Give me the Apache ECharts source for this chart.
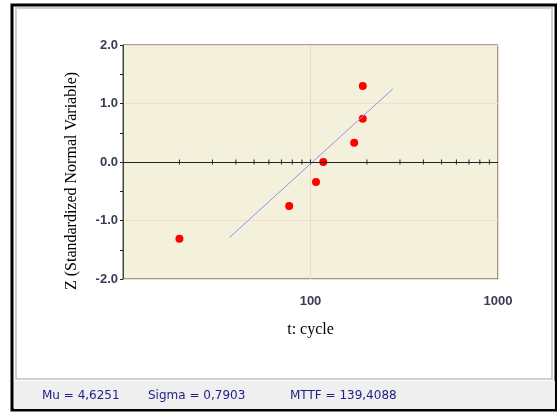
<!DOCTYPE html>
<html>
<head>
<meta charset="utf-8">
<script src="https://cdn.jsdelivr.net/npm/echarts@6/dist/echarts.min.js"></script>
<style>
  html, body { margin: 0; padding: 0; background: #fff; }
  #chart { width: 557px; height: 412px; }
</style>
</head>
<body>
<div id="chart"></div>
<script>
// failure times (cycles) and their standard normal scores
var tValues = [20, 77, 107, 117, 171, 190, 190];
var zValues = [-1.31, -0.75, -0.34, 0.0, 0.33, 0.74, 1.30];

// fitted line end points
var fitT = [37, 275];
var fitZ = [-1.29, 1.25];

// small marks on the zero line
var zeroLineTicks = [20, 30, 40, 50, 60, 70, 80, 90, 100, 200, 300, 400, 500, 600, 700, 800, 900];
var xLabels = [100, 1000];

var statusItems = ['Mu = 4,6251', 'Sigma = 0,7903', 'MTTF = 139,4088'];
var statusX = [42, 148, 290];

var chart = echarts.init(document.getElementById('chart'));

var points = tValues.map(function (t, i) { return [t, zValues[i]]; });
var fitLine = fitT.map(function (t, i) { return [t, fitZ[i]]; });
var tickMarks = zeroLineTicks.map(function (t) { return [t, 0]; });

var frame = [
  { type: 'rect', z: -10, shape: { x: 12, y: 5, width: 544, height: 405 },
    style: { fill: '#fff', stroke: '#000', lineWidth: 3 } },
  { type: 'rect', z: -9, shape: { x: 16, y: 8, width: 536, height: 371 },
    style: { fill: '#fff', stroke: '#cfcfcf', lineWidth: 2 } },
  { type: 'rect', z: -9, shape: { x: 14, y: 381, width: 541, height: 28 },
    style: { fill: '#efefef' } },
  { type: 'text', x: 72, y: 181, rotation: Math.PI / 2,
    style: { text: 'Z (Standardized Normal Variable)', font: '16px "Liberation Serif"',
      fill: '#000', align: 'center', verticalAlign: 'middle' } }
];
statusItems.forEach(function (s, i) {
  frame.push({ type: 'text', x: statusX[i], y: 396,
    style: { text: s, font: '12px "DejaVu Sans"', fill: '#1e1e86', verticalAlign: 'middle' } });
});

chart.setOption({
  animation: false,
  graphic: frame,
  grid: {
    left: 123, top: 45, right: 59, bottom: 133,
    show: true, backgroundColor: '#f3f1dc', borderColor: '#444', borderWidth: 1
  },
  xAxis: {
    type: 'log', min: 10, max: 1000, logBase: 10,
    name: 't: cycle', nameLocation: 'middle', nameGap: 43,
    nameTextStyle: { fontFamily: 'Liberation Serif', fontSize: 16, color: '#000' },
    axisLine: { show: false, onZero: false },
    axisTick: { show: false },
    axisLabel: { customValues: xLabels, margin: 16, color: '#3a3a55',
      fontFamily: 'Liberation Sans', fontSize: 13, fontWeight: 'bold',
      formatter: function (v) { return String(v); } },
    splitLine: { show: true, lineStyle: { color: '#f6d9b8', width: 1 } }
  },
  yAxis: {
    type: 'value', min: -2, max: 2, interval: 1,
    axisLine: { show: true, onZero: false, lineStyle: { color: '#444' } },
    axisTick: { show: true, length: 3, lineStyle: { color: '#222' } },
    minorTick: { show: true, splitNumber: 2, length: 3, lineStyle: { color: '#222' } },
    axisLabel: { margin: 5, color: '#3a3a55', fontFamily: 'Liberation Sans', fontSize: 13,
      fontWeight: 'bold',
      formatter: function (v) { return v.toFixed(1); } },
    splitLine: { show: true, lineStyle: { color: '#f6dcc8', width: 1 } }
  },
  series: [{
    type: 'line', data: [], symbol: 'none',
    markLine: {
      silent: true, symbol: 'none', label: { show: false },
      lineStyle: { color: '#222', width: 1, type: 'solid' },
      data: [{ yAxis: 0 }]
    }
  }, {
    type: 'scatter', data: tickMarks, symbol: 'rect', symbolSize: [1, 5],
    itemStyle: { color: '#222', opacity: 1 }, silent: true
  }, {
    type: 'line', data: fitLine, symbol: 'none',
    lineStyle: { color: '#9292e6', width: 1 }
  }, {
    type: 'scatter', data: points, symbolSize: 8,
    itemStyle: { color: '#ff0000', opacity: 1 }
  }]
});
</script>
</body>
</html>
